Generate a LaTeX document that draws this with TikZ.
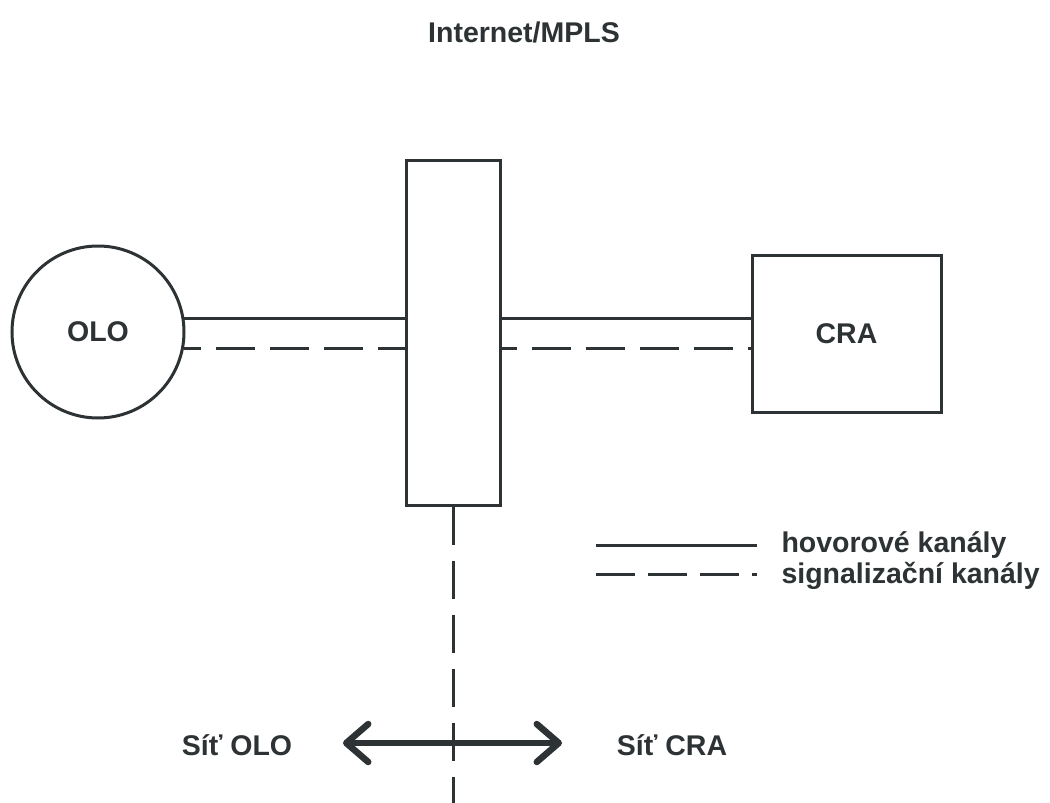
\documentclass[tikz,border=0pt]{standalone}
\usepackage{fontspec}
\setmainfont{Liberation Sans}
\usetikzlibrary{arrows.meta,calc}
\definecolor{ink}{RGB}{45,50,52}
\tikzset{
  x=1pt,y=-1pt,
  every node/.style={font=\fontsize{28.5}{32}\selectfont\bfseries, text=ink},
  shapebox/.style={draw=ink, line width=3pt, inner sep=0pt},
  voice/.style={draw=ink, line width=3pt},
  signal/.style={draw=ink, line width=3pt, dash pattern=on 39pt off 15pt},
  bigarrow/.style={draw=ink, line width=6.5pt, {Straight Barb[length=22pt,width=38pt,line cap=round,line join=round]}-{Straight Barb[length=22pt,width=38pt,line cap=round,line join=round]}},
}
\begin{document}
\begin{tikzpicture}
\useasboundingbox (0,0) rectangle (1050,803);
\node (title) at (524,32) {Internet/MPLS};
\node[shapebox, circle, minimum size=172pt] (olo) at (98,332) {OLO};
\node[shapebox, rectangle, minimum width=94pt, minimum height=345pt] (sw) at (453,332.5) {};
\node[shapebox, rectangle, minimum width=189pt, minimum height=157pt] (cra) at (846.5,333.5) {CRA};
% channels OLO - switch
\draw[voice] (olo.9) -- (olo.9 -| sw.west);
\draw[signal, dash phase=22pt] (olo.-11) -- (olo.-11 -| sw.west);
% channels switch - CRA
\draw[voice] (sw.east |- olo.9) -- (cra.west |- olo.9);
\draw[signal, dash phase=24pt] (sw.east |- olo.-11) -- (cra.west |- olo.-11);
% vertical border
\coordinate (bot) at (453,803);
\draw[signal, dash pattern=on 38pt off 16pt] (sw.south) -- (bot);
% legend
\coordinate (l1a) at (596,545);
\coordinate (l1b) at (757,545);
\coordinate (l2a) at (596,574);
\coordinate (l2b) at (757,574);
\draw[voice] (l1a) -- (l1b);
\draw[signal, dash pattern=on 39pt off 13pt] (l2a) -- (l2b);
\node[anchor=west] (lt1) at (778,545) {hovorové kanály};
\node[anchor=west] (lt2) at (778,576) {signalizační kanály};
% networks arrow
\coordinate (arrL) at (343,743);
\coordinate (arrR) at (562,743);
\draw[bigarrow] (arrL) -- (arrR);
\node (netolo) at (237,745) {Síť OLO};
\node (netcra) at (672,745) {Síť CRA};
\end{tikzpicture}
\end{document}
